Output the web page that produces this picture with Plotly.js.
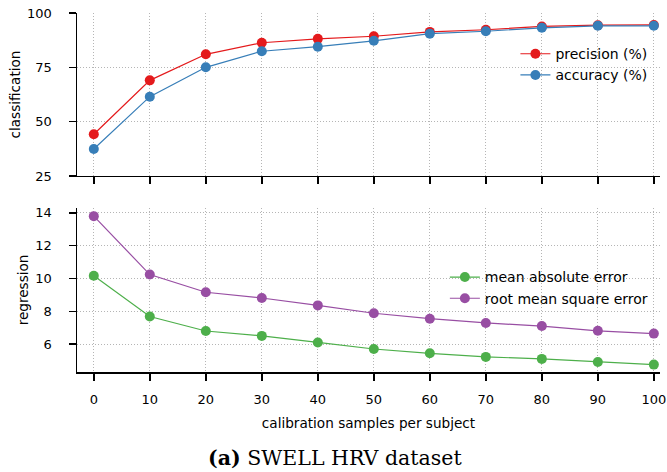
<!DOCTYPE html>
<html>
<head>
<meta charset="utf-8">
<script src="https://cdn.plot.ly/plotly-3.0.1.min.js"></script>
<style>html,body{margin:0;padding:0;background:#fff;}#chart{width:667px;height:472px;}</style>
</head>
<body>
<div id="chart"></div>
<script>
var samples = [0, 10, 20, 30, 40, 50, 60, 70, 80, 90, 100];
var precision = [44.2, 69.0, 81.0, 86.3, 88.1, 89.3, 91.3, 92.3, 93.8, 94.4, 94.5];
var accuracy = [37.4, 61.5, 75.0, 82.4, 84.5, 87.2, 90.5, 91.6, 93.2, 94.1, 94.1];
var mae = [10.17, 7.68, 6.80, 6.50, 6.10, 5.70, 5.44, 5.22, 5.10, 4.91, 4.75];
var rmse = [13.80, 10.24, 9.16, 8.81, 8.36, 7.88, 7.55, 7.29, 7.10, 6.81, 6.64];
var xTicks = [0, 10, 20, 30, 40, 50, 60, 70, 80, 90, 100];
var clsTicks = [25, 50, 75, 100];
var regTicks = [6, 8, 10, 12, 14];

var font = 'DejaVu Sans, sans-serif';
function tr(y, name, color, xa, ya, leg) {
  return {x: samples, y: y, name: name, type: 'scatter', mode: 'lines+markers',
    xaxis: xa, yaxis: ya, legend: leg,
    line: {color: color, width: 1.2},
    marker: {color: color, size: 10}};
}
var data = [
  tr(precision, 'precision (%)', '#e41a1c', 'x', 'y', 'legend'),
  tr(accuracy, 'accuracy (%)', '#377eb8', 'x', 'y', 'legend'),
  tr(mae, 'mean absolute error', '#4daf4a', 'x2', 'y2', 'legend2'),
  tr(rmse, 'root mean square error', '#984ea3', 'x2', 'y2', 'legend2')
];
var axBase = {
  showline: true, linecolor: '#000', linewidth: 1.5, mirror: false,
  ticks: 'outside', ticklen: 7, tickwidth: 1.5, tickcolor: '#000',
  showgrid: true, gridcolor: '#b5b5b5', gridwidth: 1, griddash: '1px,2px',
  zeroline: false, tickfont: {family: font, size: 13, color: '#000'},
  ticklabeloverflow: 'allow'
};
function ax(o) { return Object.assign({}, axBase, o); }
var layout = {
  width: 667, height: 472,
  margin: {l: 77, r: 7, t: 13, b: 100},
  paper_bgcolor: '#fff', plot_bgcolor: '#fff',
  font: {family: font, size: 14, color: '#000'},
  xaxis: ax({range: [-3, 101.1], tickvals: xTicks, showticklabels: false, anchor: 'y', domain: [0, 1]}),
  yaxis: ax({range: [25, 100], tickvals: clsTicks, domain: [0.546, 1], anchor: 'x', ticklabelstandoff: 14,
    title: {text: 'classification', font: {family: font, size: 13.6}, standoff: 3}}),
  xaxis2: ax({range: [-3, 101.1], tickvals: xTicks, anchor: 'y2', domain: [0, 1], ticklabelstandoff: 8,
    title: {text: 'calibration samples per subject', font: {family: font, size: 13.6}, standoff: 12}}),
  yaxis2: ax({range: [4.3, 14.3], tickvals: regTicks, domain: [0, 0.457], anchor: 'x2', ticklabelstandoff: 14,
    title: {text: 'regression', font: {family: font, size: 13.6}, standoff: 3}}),
  legend: {x: 0.752, y: 0.93, xanchor: 'left', yanchor: 'top', bgcolor: 'rgba(255,255,255,0)',
    font: {family: font, size: 14}, tracegroupgap: 0, itemwidth: 30},
  legend2: {x: 0.631, y: 0.308, xanchor: 'left', yanchor: 'top', bgcolor: 'rgba(255,255,255,0)',
    font: {family: font, size: 14}, tracegroupgap: 0, itemwidth: 30},
  showlegend: true,
  annotations: [{
    text: '<b>(a)</b> SWELL HRV dataset', xref: 'paper', yref: 'paper',
    x: 0.442, y: -0.24, xanchor: 'center', yanchor: 'middle', showarrow: false,
    font: {family: 'DejaVu Serif, serif', size: 20.5, color: '#000'}
  }]
};
Plotly.newPlot('chart', data, layout, {displayModeBar: false, staticPlot: true});
</script>
</body>
</html>
